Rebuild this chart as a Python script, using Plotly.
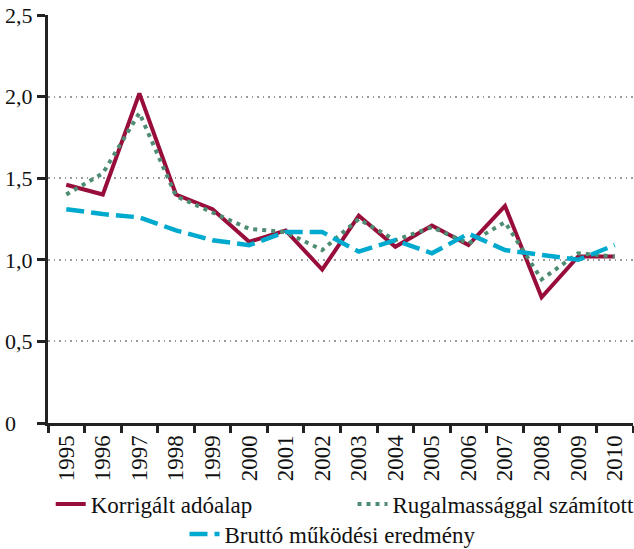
import plotly.graph_objects as go

years = [str(y) for y in range(1995, 2011)]
korrigalt = [1.46, 1.40, 2.02, 1.40, 1.31, 1.11, 1.18, 0.94, 1.27, 1.08, 1.21, 1.09, 1.33, 0.77, 1.02, 1.02]
rugalmas = [1.40, 1.53, 1.90, 1.39, 1.29, 1.19, 1.17, 1.06, 1.25, 1.12, 1.20, 1.10, 1.23, 0.88, 1.04, 1.02]
brutto = [1.31, 1.28, 1.26, 1.18, 1.12, 1.09, 1.17, 1.17, 1.05, 1.12, 1.04, 1.16, 1.06, 1.03, 1.00, 1.09]
ytick_vals = [0, 0.5, 1.0, 1.5, 2.0, 2.5]
ytick_text = ["0\u2008\u2007", "0,5", "1,0", "1,5", "2,0", "2,5"]

FONT = "Liberation Serif"
W, H = 634, 549
fig = go.Figure()
fig.add_trace(go.Scatter(x=years, y=korrigalt, mode="lines", name="Korrigált adóalap",
                         line=dict(color="#980d3a", width=4), legend="legend"))
fig.add_trace(go.Scatter(x=years, y=rugalmas, mode="lines", name="Rugalmassággal számított",
                         line=dict(color="#4f8d73", width=4, dash="4px,5px"), legend="legend2"))
fig.add_trace(go.Scatter(x=years, y=brutto, mode="lines", name="Bruttó működési eredmény",
                         line=dict(color="#00aacf", width=4.5, dash="18px,7px"), legend="legend3"))

legend_common = dict(font=dict(family=FONT, size=23, color="#111"), bgcolor="rgba(0,0,0,0)",
                     xref="container", yref="container", yanchor="top", xanchor="left",
                     itemwidth=30)
fig.update_layout(
    width=W, height=H,
    margin=dict(l=48, r=1, t=15, b=126, autoexpand=False),
    paper_bgcolor="white", plot_bgcolor="white",
    font=dict(family=FONT, size=22, color="#111"),
    showlegend=True,
    legend=dict(**legend_common, x=0.080, y=0.121),
    legend2=dict(**legend_common, x=0.556, y=0.121),
    legend3=dict(**legend_common, x=0.291, y=0.0665),
    xaxis=dict(type="category", range=[-0.5, 15.5], tickson="boundaries", ticks="outside",
               ticklen=7, tickwidth=3, tickcolor="#222", showline=True, linecolor="#222",
               linewidth=3, tickangle=-90, showgrid=False, automargin=False,
               ticklabeloverflow="allow",
               tickfont=dict(family=FONT, size=23, color="#111")),
    yaxis=dict(range=[0, 2.5], tickvals=ytick_vals, ticktext=ytick_text, ticks="outside",
               ticklen=8, tickwidth=3, tickcolor="#222", showline=True, linecolor="#222",
               linewidth=3, showgrid=True, gridcolor="#9a9a9a", gridwidth=1.5, griddash="1.5px,4px",
               zeroline=False, automargin=False, ticklabeloverflow="allow",
               tickfont=dict(family=FONT, size=22, color="#111")),
)
fig.write_html("out.html", config={"displayModeBar": False},
               post_script="document.body.style.margin='0';")
